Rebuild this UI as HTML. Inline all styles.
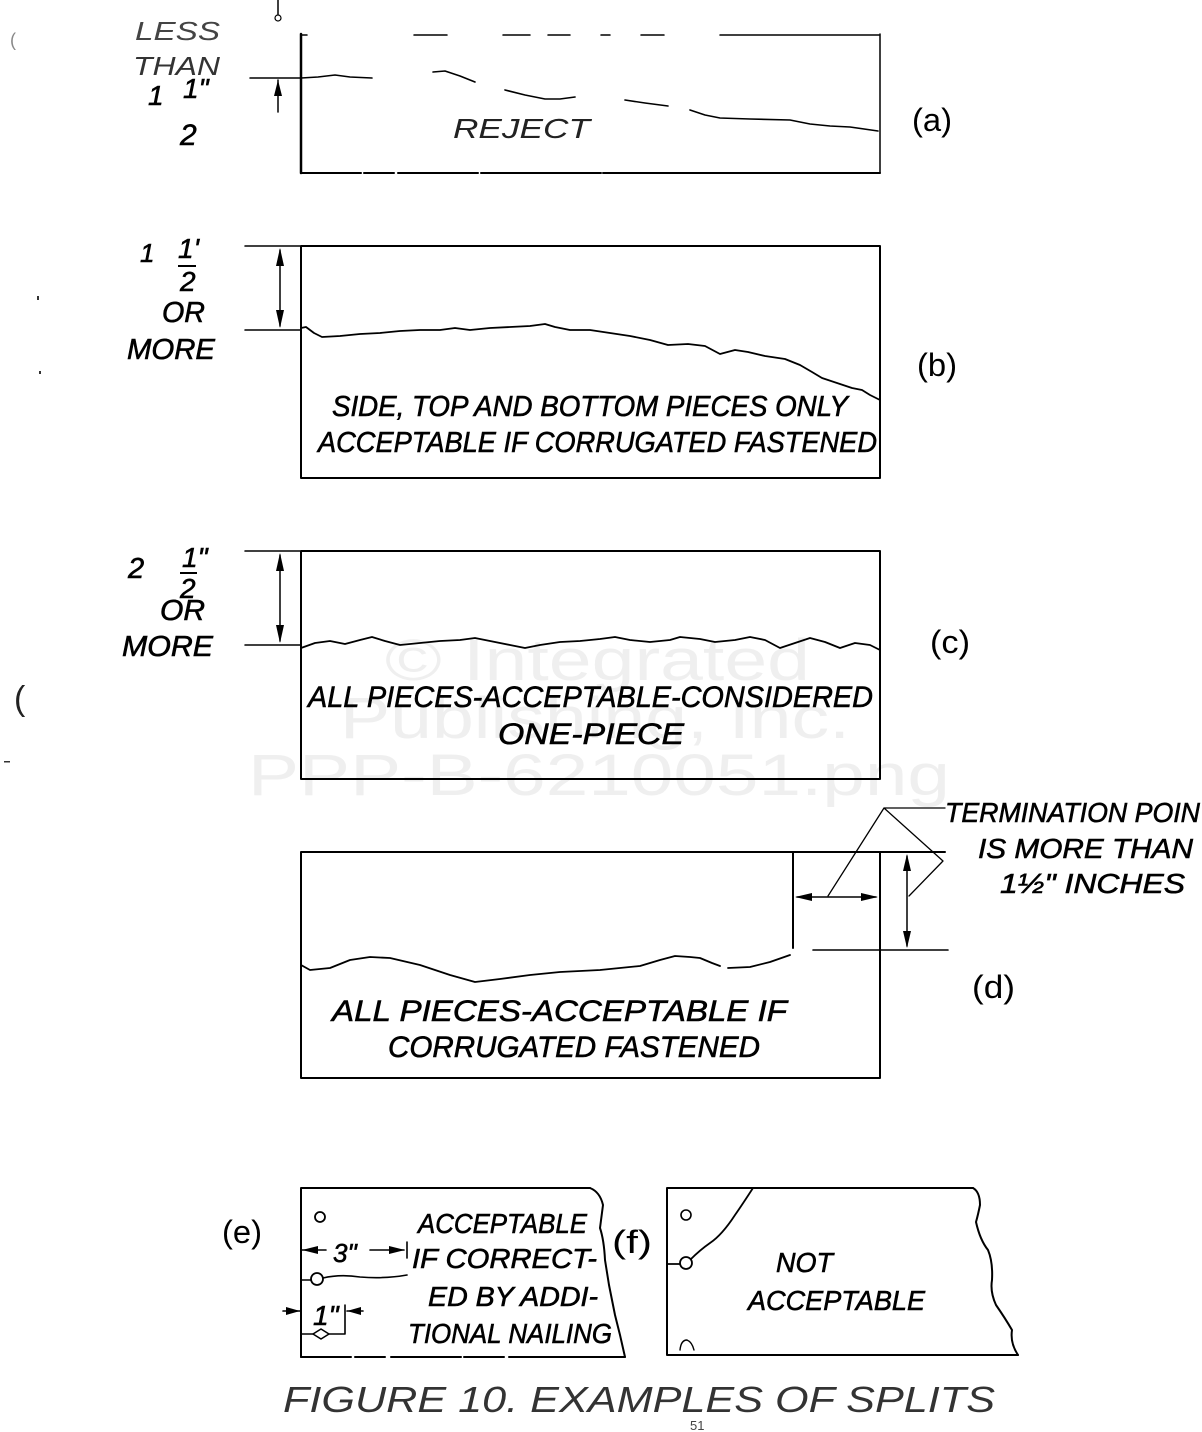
<!DOCTYPE html>
<html><head><meta charset="utf-8"><style>
html,body{margin:0;padding:0;background:#fff;}
body{width:1202px;height:1432px;overflow:hidden;}
svg{display:block;}
.t{font-family:"Liberation Sans",sans-serif;font-style:italic;fill:#000;stroke:#000;stroke-width:0.6;}
.u{font-family:"Liberation Sans",sans-serif;fill:#000;}
.wm{font-family:"Liberation Sans",sans-serif;fill:#efefef;font-size:58px;}
</style></head><body>
<svg width="1202" height="1432" viewBox="0 0 1202 1432" xmlns="http://www.w3.org/2000/svg">
<rect width="1202" height="1432" fill="#fff"/>
<!-- watermark -->
<text class="wm" x="385" y="680" textLength="425" lengthAdjust="spacingAndGlyphs">© Integrated</text>
<text class="wm" x="340" y="738" textLength="510" lengthAdjust="spacingAndGlyphs">Publishing, Inc.</text>
<text class="wm" x="248" y="795" textLength="702" lengthAdjust="spacingAndGlyphs">PPP-B-6210051.png</text>

<g fill="none" stroke="#000" stroke-linecap="round" stroke-linejoin="round">
<!-- ===== (a) ===== -->
<path d="M301 34 V173" stroke-width="2.5"/>
<path d="M301 173 H880" stroke-width="2" stroke-dasharray="60 3 30 4 80 3 120 2 300"/>
<path d="M880 34 V173" stroke-width="1.5"/>
<path d="M301 35 H307 M414 35 H447 M503 35 H530 M548 35 H570 M601 35 H610 M641 35 H664 M720 35 H879" stroke-width="1.5"/>
<path d="M301 78 L318 77 L335 75 L350 77 L372 78 M433 72 L445 71 L460 76 L475 82 M505 90 L525 95 L545 99 L560 99 L575 97 M625 100 L645 103 L668 106 M690 110 L705 115 L720 118 L750 119 L790 120 L810 124 L830 126 L850 127 L878 131" stroke-width="1.6"/>
<path d="M278 0 V14" stroke-width="1.5"/>
<circle cx="278" cy="18" r="3" stroke-width="1.2"/>
<path d="M250 78 H301" stroke-width="1.5"/>
<path d="M278 80 V112" stroke-width="1.5"/>

<!-- ===== (b) ===== -->
<rect x="301" y="246" width="579" height="232" stroke-width="2"/>
<path d="M301 328 L306 327 L314 333 L322 337 L340 336 L360 334 L380 333 L400 331 L420 330 L440 330 L455 328 L470 330 L490 328 L510 327 L530 326 L545 324 L555 327 L570 330 L590 330 L610 333 L630 336 L650 340 L668 345 L688 344 L705 346 L720 354 L735 350 L748 352 L765 356 L785 359 L800 365 L812 372 L822 378 L840 384 L852 388 L862 390 L870 395 L880 400" stroke-width="1.8"/>
<path d="M245 246 H300 M245 330 H300 M280 250 V326" stroke-width="1.5"/>

<!-- ===== (c) ===== -->
<rect x="301" y="551" width="579" height="228" stroke-width="2"/>
<path d="M301 648 L315 643 L330 641 L345 644 L360 640 L372 637 L385 641 L400 645 L420 643 L440 641 L460 640 L475 638 L490 641 L510 645 L525 648 L540 645 L560 642 L580 641 L600 639 L615 637 L630 640 L650 642 L670 640 L680 637 L700 639 L715 642 L735 640 L750 637 L765 640 L780 648 L795 643 L810 638 L825 642 L840 648 L855 643 L870 645 L880 650" stroke-width="1.8"/>
<path d="M245 551 H300 M245 645 H300 M280 555 V641" stroke-width="1.5"/>

<!-- ===== (d) ===== -->
<path d="M301 852 V1078 M301 1078 H880 M880 852 V1078 M301 852 H945" stroke-width="2"/>
<path d="M793 852 V948" stroke-width="2"/>
<path d="M797 897 H876" stroke-width="1.6"/>
<path d="M813 950 H948" stroke-width="1.6"/>
<path d="M907 856 V946" stroke-width="1.5"/>
<path d="M945 808 H884 L828 896 M884 808 L943 861 L909 896" stroke-width="1.3"/>
<path d="M301 965 L310 970 L330 968 L350 960 L370 957 L390 958 L420 965 L450 975 L475 982 L500 979 L530 975 L560 972 L600 970 L640 966 L660 960 L675 956 L690 957 L700 958 L712 963 L720 966 M728 968 L750 967 L770 962 L790 955" stroke-width="1.8"/>

<!-- ===== (e) ===== -->
<path d="M301 1188 V1357 M301 1188 H590" stroke-width="2"/>
<path d="M590 1188 Q600 1192 603 1205 L600 1228 Q604 1240 605 1260 L609 1285 Q612 1300 615 1315 L620 1335 L625 1357" stroke-width="2"/>
<path d="M301 1357 H625" stroke-width="2" stroke-dasharray="50 4 30 6 70 3 40 5 200"/>
<circle cx="320" cy="1217" r="5" stroke-width="1.8"/>
<circle cx="317" cy="1279" r="6" stroke-width="1.8"/>
<path d="M301 1280 H311 M323 1278 Q340 1274 360 1277 Q385 1279 407 1275" stroke-width="1.6"/>
<polygon points="313,1334 321,1329 329,1334 321,1339" stroke-width="1.5"/>
<path d="M301 1334 H313 M329 1334 H345 M345 1305 V1334" stroke-width="1.6"/>
<path d="M302 1250 H326 M370 1250 H404 M407 1242 V1258" stroke-width="1.6"/>
<path d="M283 1311 H300 M347 1311 H363" stroke-width="1.6"/>

<!-- ===== (f) ===== -->
<path d="M667 1188 V1355 M667 1188 H973 M667 1355 H1018" stroke-width="2"/>
<path d="M973 1188 Q980 1192 980 1205 Q978 1215 976 1222 Q980 1240 988 1250 Q993 1262 992 1280 Q990 1292 996 1305 Q1005 1318 1012 1330 Q1010 1343 1018 1355" stroke-width="2"/>
<path d="M753 1188 Q742 1205 735 1215 Q722 1235 710 1243 Q700 1250 691 1259" stroke-width="1.8"/>
<circle cx="686" cy="1263" r="6" stroke-width="1.8"/>
<path d="M667 1264 H680" stroke-width="1.8"/>
<circle cx="686" cy="1215" r="5" stroke-width="1.6"/>
<path d="M680 1350 Q681 1340 687 1340 Q692 1342 694 1350" stroke-width="1.4"/>
</g>

<!-- arrowheads -->
<g fill="#000" stroke="none">
<polygon points="278,80 274,96 282,96"/>
<polygon points="280,248 276,266 284,266"/>
<polygon points="280,328 276,310 284,310"/>
<polygon points="280,553 276,571 284,571"/>
<polygon points="280,643 276,625 284,625"/>
<polygon points="795,897 812,893 812,901"/>
<polygon points="878,897 861,893 861,901"/>
<polygon points="907,854 903,871 911,871"/>
<polygon points="907,948 903,931 911,931"/>
<polygon points="302,1250 318,1246 318,1254"/>
<polygon points="405,1250 389,1246 389,1254"/>
<polygon points="300,1311 286,1307 286,1315"/>
<polygon points="347,1311 361,1307 361,1315"/>
</g>

<!-- fraction bars -->
<path d="M178 266 H196 M180 573 H197" stroke="#000" stroke-width="2" fill="none"/>

<!-- ===== texts (a) ===== -->
<text class="t" x="135" y="40" font-size="26" textLength="85" lengthAdjust="spacingAndGlyphs" style="fill:#444;stroke:none">LESS</text>
<text class="t" x="133" y="75" font-size="26" textLength="87" lengthAdjust="spacingAndGlyphs" style="fill:#333;stroke:none">THAN</text>
<text class="t" x="148" y="105" font-size="28">1</text>
<text class="t" x="183" y="98" font-size="28">1"</text>
<text class="t" x="180" y="145" font-size="30">2</text>
<text class="t" x="453" y="138" font-size="28" textLength="137" lengthAdjust="spacingAndGlyphs" style="fill:#222;stroke:none">REJECT</text>
<text class="u" x="912" y="131" font-size="32" textLength="40" lengthAdjust="spacingAndGlyphs">(a)</text>

<!-- ===== texts (b) ===== -->
<text class="t" x="140" y="262" font-size="26">1</text>
<text class="t" x="178" y="258" font-size="28">1'</text>
<text class="t" x="180" y="291" font-size="28">2</text>
<text class="t" x="162" y="322" font-size="29" textLength="43" lengthAdjust="spacingAndGlyphs">OR</text>
<text class="t" x="127" y="359" font-size="29" textLength="88" lengthAdjust="spacingAndGlyphs">MORE</text>
<text class="t" x="332" y="416" font-size="29" textLength="516" lengthAdjust="spacingAndGlyphs">SIDE, TOP AND BOTTOM PIECES ONLY</text>
<text class="t" x="318" y="452" font-size="29" textLength="559" lengthAdjust="spacingAndGlyphs">ACCEPTABLE IF CORRUGATED FASTENED</text>
<text class="u" x="917" y="376" font-size="32" textLength="40" lengthAdjust="spacingAndGlyphs">(b)</text>

<!-- ===== texts (c) ===== -->
<text class="t" x="128" y="578" font-size="29">2</text>
<text class="t" x="182" y="567" font-size="28">1"</text>
<text class="t" x="180" y="598" font-size="28">2</text>
<text class="t" x="160" y="620" font-size="29" textLength="45" lengthAdjust="spacingAndGlyphs">OR</text>
<text class="t" x="122" y="656" font-size="29" textLength="91" lengthAdjust="spacingAndGlyphs">MORE</text>
<text class="t" x="308" y="707" font-size="30" textLength="565" lengthAdjust="spacingAndGlyphs">ALL PIECES-ACCEPTABLE-CONSIDERED</text>
<text class="t" x="498" y="744" font-size="30" textLength="186" lengthAdjust="spacingAndGlyphs">ONE-PIECE</text>
<text class="u" x="930" y="653" font-size="32" textLength="40" lengthAdjust="spacingAndGlyphs">(c)</text>

<!-- ===== texts (d) ===== -->
<text class="t" x="945" y="822" font-size="28" textLength="255" lengthAdjust="spacingAndGlyphs">TERMINATION POIN</text>
<text class="t" x="978" y="858" font-size="28" textLength="215" lengthAdjust="spacingAndGlyphs">IS MORE THAN</text>
<text class="t" x="1000" y="893" font-size="28" textLength="185" lengthAdjust="spacingAndGlyphs">1½" INCHES</text>
<text class="t" x="332" y="1021" font-size="30" textLength="455" lengthAdjust="spacingAndGlyphs">ALL PIECES-ACCEPTABLE IF</text>
<text class="t" x="388" y="1057" font-size="30" textLength="372" lengthAdjust="spacingAndGlyphs">CORRUGATED FASTENED</text>
<text class="u" x="972" y="998" font-size="32" textLength="43" lengthAdjust="spacingAndGlyphs">(d)</text>

<!-- ===== texts (e) ===== -->
<text class="t" x="418" y="1233" font-size="28" textLength="169" lengthAdjust="spacingAndGlyphs">ACCEPTABLE</text>
<text class="t" x="412" y="1268" font-size="28" textLength="185" lengthAdjust="spacingAndGlyphs">IF CORRECT-</text>
<text class="t" x="428" y="1306" font-size="28" textLength="170" lengthAdjust="spacingAndGlyphs">ED BY ADDI-</text>
<text class="t" x="408" y="1343" font-size="28" textLength="204" lengthAdjust="spacingAndGlyphs">TIONAL NAILING</text>
<text class="t" x="333" y="1262" font-size="26">3"</text>
<text class="t" x="313" y="1325" font-size="28">1"</text>
<text class="u" x="222" y="1243" font-size="32" textLength="40" lengthAdjust="spacingAndGlyphs">(e)</text>

<!-- ===== texts (f) ===== -->
<text class="u" x="612" y="1253" font-size="32" textLength="40" lengthAdjust="spacingAndGlyphs">(f)</text>
<text class="t" x="776" y="1272" font-size="28" textLength="57" lengthAdjust="spacingAndGlyphs">NOT</text>
<text class="t" x="748" y="1310" font-size="28" textLength="177" lengthAdjust="spacingAndGlyphs">ACCEPTABLE</text>

<!-- caption -->
<text class="t" x="283" y="1412" font-size="36" textLength="712" lengthAdjust="spacingAndGlyphs" style="fill:#333;stroke:none">FIGURE 10. EXAMPLES OF SPLITS</text>
<text class="u" x="690" y="1430" font-size="13" style="fill:#444">51</text>

<!-- stray marks -->
<text class="u" x="10" y="46" font-size="18" style="fill:#888">(</text>
<text class="u" x="14" y="710" font-size="34" style="fill:#222">(</text>
<rect x="37" y="296" width="2" height="4" fill="#333"/>
<rect x="39" y="371" width="2" height="3" fill="#333"/>
<rect x="4" y="761" width="6" height="1.5" fill="#333"/>
</svg>
</body></html>
